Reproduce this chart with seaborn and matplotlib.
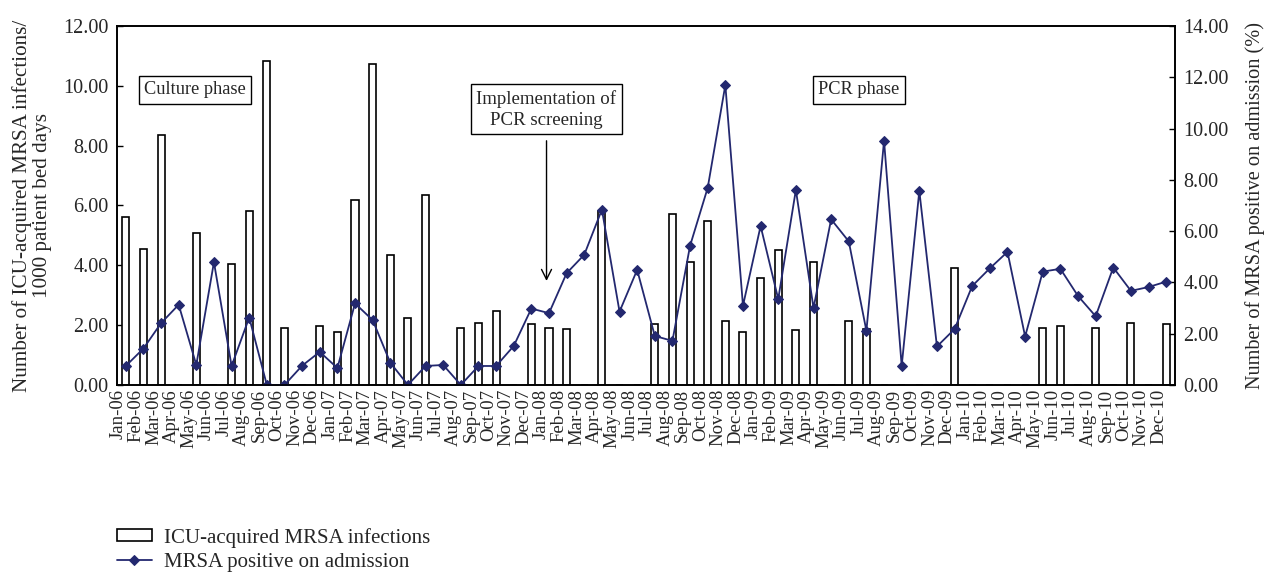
import numpy as np
import pandas as pd
import matplotlib
matplotlib.use("Agg")
import matplotlib.pyplot as plt
import seaborn as sns

# ---- data -------------------------------------------------------------
years = ["06", "07", "08", "09", "10"]
month_names = ["Jan", "Feb", "Mar", "Apr", "May", "Jun",
               "Jul", "Aug", "Sep", "Oct", "Nov", "Dec"]
months = [f"{m}-{y}" for y in years for m in month_names]

# ICU-acquired MRSA infections / 1000 patient bed days (left axis)
icu_infections = [
    5.60, 4.54, 8.34, 0.00, 5.09, 0.00, 4.04, 5.82, 10.82, 1.92, 0.00, 1.97,
    1.77, 6.18, 10.72, 4.35, 2.25, 6.36, 0.00, 1.92, 2.07, 2.47, 0.00, 2.03,
    1.92, 1.88, 0.00, 5.80, 0.00, 0.00, 2.03, 5.72, 4.11, 5.49, 2.13, 1.76,
    3.57, 4.52, 1.84, 4.11, 0.00, 2.13, 1.87, 0.00, 0.00, 0.00, 0.00, 3.90,
    0.00, 0.00, 0.00, 0.00, 1.92, 1.97, 0.00, 1.92, 0.00, 2.07, 0.00, 2.03,
]

# MRSA positive on admission, % (right axis)
mrsa_admission = [
    0.74, 1.42, 2.41, 3.13, 0.78, 4.79, 0.74, 2.63, 0.00, 0.00, 0.75, 1.29,
    0.66, 3.18, 2.53, 0.87, 0.00, 0.74, 0.78, 0.00, 0.74, 0.74, 1.52, 2.98,
    2.80, 4.36, 5.08, 6.84, 2.86, 4.49, 1.91, 1.72, 5.43, 7.69, 11.70, 3.09,
    6.20, 3.35, 7.61, 3.00, 6.46, 5.60, 2.11, 9.53, 0.74, 7.57, 1.50, 2.18,
    3.86, 4.55, 5.19, 1.89, 4.42, 4.53, 3.47, 2.68, 4.58, 3.67, 3.82, 4.03,
]

left_ticks = [0, 2, 4, 6, 8, 10, 12]
right_ticks = [0, 2, 4, 6, 8, 10, 12, 14]

df = pd.DataFrame({"month": months,
                   "infections": icu_infections,
                   "admission": mrsa_admission})
df["pos"] = np.arange(len(df))

# ---- style ------------------------------------------------------------
sns.set_style("white")
plt.rcParams["font.family"] = ["Liberation Serif", "DejaVu Serif"]
navy = "#23286f"

fig = plt.figure(figsize=(12.74, 5.72), dpi=100)
ax = fig.add_axes([0.0918, 0.327, 0.8305, 0.6275])

sns.barplot(data=df, x="month", y="infections", ax=ax, color="white",
            edgecolor="black", linewidth=1.2, width=0.4, saturation=1,
            label="ICU-acquired MRSA infections")
if ax.get_legend() is not None:
    ax.get_legend().remove()

ax.set_xlim(-0.5, len(months) - 0.5)
ax.set_ylim(0, 12)
ax.set_yticks(left_ticks)
ax.set_yticklabels([f"{v:.2f}" for v in left_ticks], fontsize=14.5)
ax.set_ylabel("Number of ICU-acquired MRSA infections/\n1000 patient bed days",
              fontsize=15.2, labelpad=8, linespacing=1.1)
ax.set_xlabel("")

# labels sit slightly left of the bars, tick marks at category borders
ax.set_xticks(np.arange(len(months)) - 0.42)
ax.set_xticklabels(months, rotation=90, fontsize=13.5)
ax.tick_params(axis="x", length=0, pad=3)
ax.set_xticks(np.arange(len(months)) + 0.5, minor=True)
ax.tick_params(axis="x", which="minor", direction="in", length=3,
               width=1, color="black")
ax.tick_params(axis="y", direction="in", length=4, width=1, color="black",
               left=True, pad=6)
for sp in ax.spines.values():
    sp.set_visible(True)
    sp.set_color("black")
    sp.set_linewidth(1.2)

# ---- right axis: line --------------------------------------------------
ax2 = ax.twinx()
sns.lineplot(data=df, x="pos", y="admission", ax=ax2, color=navy,
             marker="D", markersize=5.5, markeredgecolor=navy, linewidth=1.3,
             label="MRSA positive on admission", legend=False)
ax2.set_ylim(0, 14)
ax2.set_xlim(-0.5, len(months) - 0.5)
ax2.set_yticks(right_ticks)
ax2.set_yticklabels([f"{v:.2f}" for v in right_ticks], fontsize=14.5)
ax2.set_ylabel("Number of MRSA positive on admission (%)", fontsize=14.6,
               labelpad=12)
ax2.tick_params(axis="y", direction="in", length=4, width=1, color="black",
                right=True, pad=6)
for sp in ax2.spines.values():
    sp.set_visible(True)
    sp.set_color("black")
    sp.set_linewidth(1.2)

# ---- annotations -------------------------------------------------------
box = dict(boxstyle="square,pad=0.3", facecolor="white", edgecolor="black",
           linewidth=1)
ax.text(0.0737, 0.822, "Culture phase", transform=ax.transAxes, fontsize=13.2,
        ha="center", va="center", bbox=box)
ax.text(0.701, 0.822, "PCR phase", transform=ax.transAxes, fontsize=13.2,
        ha="center", va="center", bbox=box)
ax.annotate("", xy=(0.406, 0.282), xytext=(0.406, 0.688),
            xycoords="axes fraction",
            arrowprops=dict(arrowstyle="->", color="black", lw=1,
                            mutation_scale=18))
ax.text(0.406, 0.768, "Implementation of\nPCR screening",
        transform=ax.transAxes, fontsize=13.6, ha="center", va="center",
        bbox=box, linespacing=1.3)

# ---- legend -------------------------------------------------------------
h1, l1 = ax.get_legend_handles_labels()
h2, l2 = ax2.get_legend_handles_labels()
fig.legend(h1 + h2, l1 + l2, loc="lower left",
           bbox_to_anchor=(0.092, 0.0), frameon=False, fontsize=15,
           handlelength=1.65, handleheight=0.5, handletextpad=0.6,
           labelspacing=0.25, borderpad=0, borderaxespad=0)

fig.savefig("out.png", dpi=100)
